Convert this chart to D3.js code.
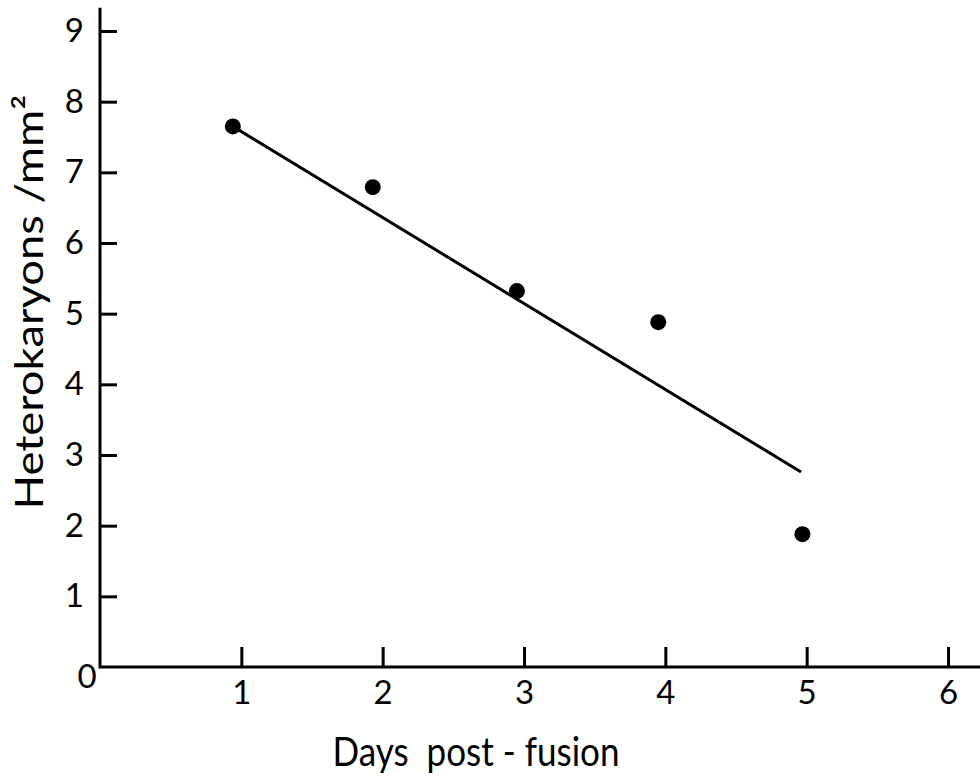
<!DOCTYPE html>
<html>
<head>
<meta charset="utf-8">
<script src="https://cdn.jsdelivr.net/npm/d3@7"></script>
<style>
  body { margin: 0; background: #fff; }
  svg { display: block; }
  text { font-family: Lato, "Open Sans", sans-serif; fill: #000; }
</style>
</head>
<body>
<svg id="chart"></svg>
<script>
// values
var days   = [0.94, 1.93, 2.95, 3.95, 4.97];
var counts = [7.65, 6.79, 5.32, 4.88, 1.88];
// fitted line end points
var fitDays   = [0.94, 4.96];
var fitCounts = [7.65, 2.76];
var xTicks = [1, 2, 3, 4, 5, 6];
var yTicks = [1, 2, 3, 4, 5, 6, 7, 8, 9];
var xTitle = "Days  post - fusion";
var yTitle = "Heterokaryons /mm²";

var W = 980, H = 779;
var svg = d3.select('#chart').attr('width', W).attr('height', H);

var x = d3.scaleLinear().domain([0, 6]).range([100, 948]);
var y = d3.scaleLinear().domain([0, 9]).range([667, 31]);

// axis lines
var axisLine = d3.line().x(function(d){ return x(d[0]); }).y(function(d){ return y(d[1]); });
svg.append('path')
  .attr('d', axisLine([[0, 9.33], [0, 0], [6.25, 0]]))
  .attr('fill', 'none').attr('stroke', '#000').attr('stroke-width', 3);

var yAxis = d3.axisLeft(y).tickValues(yTicks).tickSize(-17).tickPadding(16)
  .tickFormat(d3.format('d'));
var gy = svg.append('g').attr('transform', 'translate(' + x(0) + ',0)').call(yAxis);
gy.select('.domain').remove();

var xAxis = d3.axisBottom(x).tickValues(xTicks).tickSize(-20).tickPadding(14)
  .tickFormat(d3.format('d'));
var gx = svg.append('g').attr('transform', 'translate(0,' + y(0) + ')').call(xAxis);
gx.select('.domain').remove();

svg.selectAll('.tick line').attr('stroke', '#000').attr('stroke-width', 3);
svg.selectAll('.tick text').style('font-size', '33px').attr('fill', '#000');

// origin label
svg.append('text').attr('x', x(0) - 13).attr('y', y(0) + 21)
  .attr('text-anchor', 'middle').style('font-size', '33px').text('0');

// titles
svg.append('text').attr('x', 476).attr('y', 766)
  .attr('text-anchor', 'middle').style('font-size', '40px')
  .style('white-space', 'pre')
  .attr('textLength', 287).attr('lengthAdjust', 'spacingAndGlyphs')
  .text(xTitle);

svg.append('text')
  .attr('transform', 'translate(43,302) rotate(-90)')
  .attr('text-anchor', 'middle').style('font-size', '38px')
  .attr('textLength', 415).attr('lengthAdjust', 'spacingAndGlyphs')
  .text(yTitle);

// fitted line
svg.append('path')
  .datum(d3.zip(fitDays, fitCounts))
  .attr('d', axisLine)
  .attr('fill', 'none').attr('stroke', '#000').attr('stroke-width', 3);

// points
svg.selectAll('circle.pt').data(d3.zip(days, counts)).enter()
  .append('circle').attr('class', 'pt')
  .attr('cx', function(d){ return x(d[0]); })
  .attr('cy', function(d){ return y(d[1]); })
  .attr('r', 8).attr('fill', '#000');
</script>
</body>
</html>
